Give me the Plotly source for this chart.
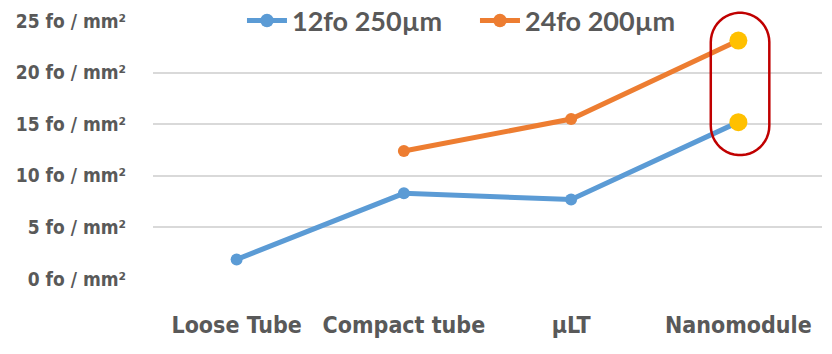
import plotly.graph_objects as go
import numpy as np

categories = ["Loose Tube", "Compact tube", "µLT", "Nanomodule"]
series_names = ["12fo 250µm", "24fo 200µm"]
values_12fo = [1.9, 8.3, 7.7, 15.2]
values_24fo = [None, 12.4, 15.5, 23.1]
y_tickvals = [0, 5, 10, 15, 20, 25]
y_ticktext = [f"{v} fo / mm²" for v in y_tickvals]

BLUE = "#5B9BD5"
ORANGE = "#ED7D31"
YELLOW = "#FFC000"
GREY = "#595959"
COND = "DejaVu Sans Condensed, Liberation Sans Narrow, Arial Narrow, sans-serif"

YMAX = 25.0
XMIN, XMAX = -0.5, 3.5

fig = go.Figure()
fig.add_trace(go.Scatter(
    x=categories, y=values_12fo, name=series_names[0], mode="lines+markers",
    line=dict(color=BLUE, width=5),
    marker=dict(color=[BLUE, BLUE, BLUE, YELLOW], size=[12, 12, 12, 18],
                opacity=1, line=dict(width=0)),
))
fig.add_trace(go.Scatter(
    x=categories, y=values_24fo, name=series_names[1], mode="lines+markers",
    line=dict(color=ORANGE, width=5),
    marker=dict(color=[ORANGE, ORANGE, ORANGE, YELLOW], size=[12, 12, 12, 18],
                opacity=1, line=dict(width=0)),
))

# Highlight stadium around the Nanomodule points (paper coords so it is not clipped)
cx = 3.01
rx = 0.175
ymin = values_12fo[3] - 3.2
ymax = values_24fo[3] + 2.7
ry = 2.85
def to_paper(x, y):
    return ((x - XMIN) / (XMAX - XMIN), y / YMAX)
pts = []
for t in np.linspace(np.pi, 0, 24):
    pts.append(to_paper(cx + rx * np.cos(t), ymax - ry + ry * np.sin(t)))
for t in np.linspace(0, -np.pi, 24):
    pts.append(to_paper(cx + rx * np.cos(t), ymin + ry + ry * np.sin(t)))
path = "M " + " L ".join(f"{px:.5f},{py:.5f}" for px, py in pts) + " Z"
fig.add_shape(type="path", path=path, xref="paper", yref="paper",
              line=dict(color="#C00000", width=2.5), layer="above")

fig.update_layout(
    width=832, height=354,
    margin=dict(l=153, r=10, t=21, b=75, autoexpand=False),
    paper_bgcolor="white", plot_bgcolor="white",
    showlegend=True,
    legend=dict(orientation="h", x=0.133, xanchor="left", y=1.0, yanchor="middle",
                bgcolor="rgba(0,0,0,0)",
                font=dict(family="Lato", size=27, color=GREY, weight="bold"),
                itemwidth=40, tracegroupgap=0,
                entrywidth=178, entrywidthmode="pixels"),
    xaxis=dict(type="category", range=[XMIN, XMAX], showgrid=False, zeroline=False,
               showline=False, ticks="",
               tickfont=dict(family=COND, size=23, color=GREY, weight="bold"),
               ticklabelstandoff=30),
    yaxis=dict(range=[0, YMAX], tickvals=y_tickvals, ticktext=y_ticktext,
               showgrid=True, gridcolor="#D9D9D9", gridwidth=1.5, zeroline=False,
               showline=False, ticks="",
               tickfont=dict(family=COND, size=19, color=GREY, weight="bold"),
               ticklabelstandoff=26),
)

fig.write_html("out.html")
